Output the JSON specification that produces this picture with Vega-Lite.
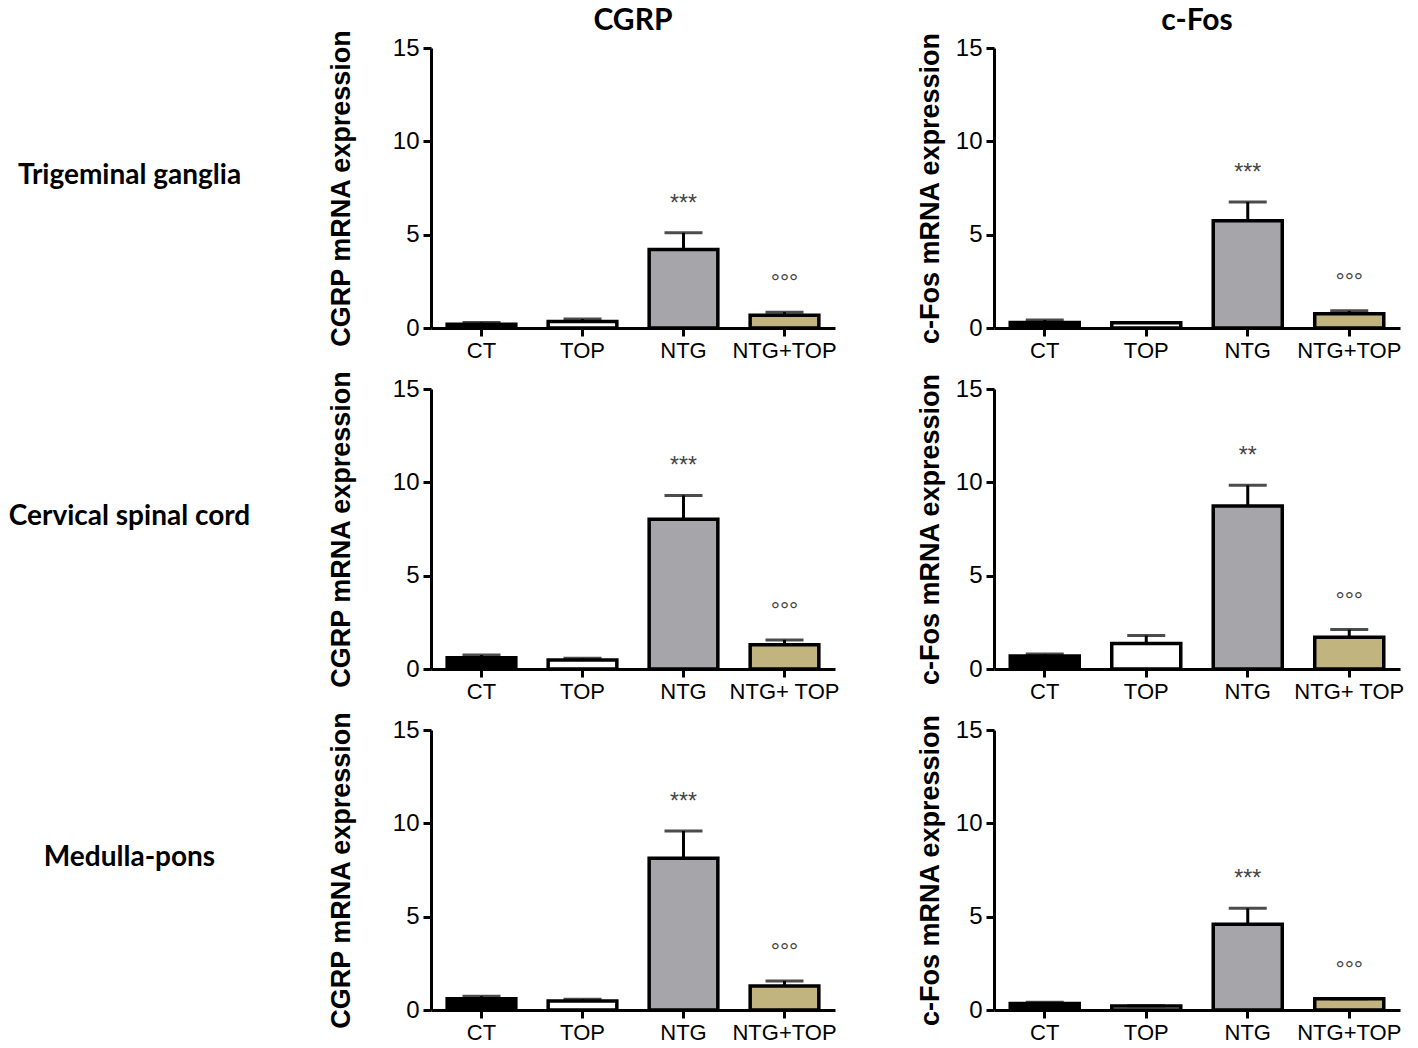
{
  "$schema": "https://vega.github.io/schema/vega-lite/v6.json",
  "padding": {"left": 8, "top": 6, "right": 5, "bottom": 5},
  "background": "white",
  "datasets": {
    "d": [
      {"region": "Trigeminal ganglia", "gene": "CGRP", "group": "CT", "label": "CT", "mean": 0.2, "upper": 0.3, "sig": ""},
      {"region": "Trigeminal ganglia", "gene": "CGRP", "group": "TOP", "label": "TOP", "mean": 0.35, "upper": 0.48, "sig": ""},
      {"region": "Trigeminal ganglia", "gene": "CGRP", "group": "NTG", "label": "NTG", "mean": 4.2, "upper": 5.1, "sig": "***"},
      {"region": "Trigeminal ganglia", "gene": "CGRP", "group": "NTG+TOP", "label": "NTG+TOP", "mean": 0.68, "upper": 0.85, "sig": "°°°"},
      {"region": "Trigeminal ganglia", "gene": "c-Fos", "group": "CT", "label": "CT", "mean": 0.3, "upper": 0.43, "sig": ""},
      {"region": "Trigeminal ganglia", "gene": "c-Fos", "group": "TOP", "label": "TOP", "mean": 0.28, "upper": 0.3, "sig": ""},
      {"region": "Trigeminal ganglia", "gene": "c-Fos", "group": "NTG", "label": "NTG", "mean": 5.74, "upper": 6.75, "sig": "***"},
      {"region": "Trigeminal ganglia", "gene": "c-Fos", "group": "NTG+TOP", "label": "NTG+TOP", "mean": 0.77, "upper": 0.92, "sig": "°°°"},
      {"region": "Cervical spinal cord", "gene": "CGRP", "group": "CT", "label": "CT", "mean": 0.6, "upper": 0.75, "sig": ""},
      {"region": "Cervical spinal cord", "gene": "CGRP", "group": "TOP", "label": "TOP", "mean": 0.48, "upper": 0.58, "sig": ""},
      {"region": "Cervical spinal cord", "gene": "CGRP", "group": "NTG", "label": "NTG", "mean": 8.02, "upper": 9.3, "sig": "***"},
      {"region": "Cervical spinal cord", "gene": "CGRP", "group": "NTG+TOP", "label": "NTG+ TOP", "mean": 1.3, "upper": 1.56, "sig": "°°°"},
      {"region": "Cervical spinal cord", "gene": "c-Fos", "group": "CT", "label": "CT", "mean": 0.7, "upper": 0.8, "sig": ""},
      {"region": "Cervical spinal cord", "gene": "c-Fos", "group": "TOP", "label": "TOP", "mean": 1.37, "upper": 1.79, "sig": ""},
      {"region": "Cervical spinal cord", "gene": "c-Fos", "group": "NTG", "label": "NTG", "mean": 8.73, "upper": 9.84, "sig": "**"},
      {"region": "Cervical spinal cord", "gene": "c-Fos", "group": "NTG+TOP", "label": "NTG+ TOP", "mean": 1.7, "upper": 2.11, "sig": "°°°"},
      {"region": "Medulla-pons", "gene": "CGRP", "group": "CT", "label": "CT", "mean": 0.6, "upper": 0.74, "sig": ""},
      {"region": "Medulla-pons", "gene": "CGRP", "group": "TOP", "label": "TOP", "mean": 0.48, "upper": 0.57, "sig": ""},
      {"region": "Medulla-pons", "gene": "CGRP", "group": "NTG", "label": "NTG", "mean": 8.13, "upper": 9.59, "sig": "***"},
      {"region": "Medulla-pons", "gene": "CGRP", "group": "NTG+TOP", "label": "NTG+TOP", "mean": 1.29, "upper": 1.56, "sig": "°°°"},
      {"region": "Medulla-pons", "gene": "c-Fos", "group": "CT", "label": "CT", "mean": 0.35, "upper": 0.42, "sig": ""},
      {"region": "Medulla-pons", "gene": "c-Fos", "group": "TOP", "label": "TOP", "mean": 0.22, "upper": 0.23, "sig": ""},
      {"region": "Medulla-pons", "gene": "c-Fos", "group": "NTG", "label": "NTG", "mean": 4.6, "upper": 5.45, "sig": "***"},
      {"region": "Medulla-pons", "gene": "c-Fos", "group": "NTG+TOP", "label": "NTG+TOP", "mean": 0.6, "upper": 0.6, "sig": "°°°"}
    ]
  },
  "config": {
    "view": {"stroke": null},
    "font": "Liberation Sans",
    "axis": {
      "domainColor": "black", "domainWidth": 3, "tickColor": "black", "tickWidth": 3, "tickSize": 8,
      "labelColor": "black", "labelFont": "Liberation Sans", "titleFont": "Liberation Sans", "titleColor": "black", "grid": false
    },
    "axisY": {"labelFontSize": 24, "titleFontSize": 27, "titleFontWeight": "bold", "labelPadding": 4},
    "axisX": {"labelFontSize": 22, "labelAngle": 0, "labelPadding": 4},
    "header": {"labelFont": "Lato", "labelFontWeight": "bold", "labelColor": "black"}
  },
  "hconcat": [
    {
      "data": {"name": "d"},
      "transform": [{"filter": "datum.gene == 'CGRP' && datum.group == 'CT'"}],
      "facet": {
        "row": {"field": "region", "type": "nominal", "sort": ["Trigeminal ganglia", "Cervical spinal cord", "Medulla-pons"], "header": {"title": null, "labels": false}}
      },
      "spacing": {"row": 61},
      "resolve": {"scale": {"x": "independent", "y": "independent"}},
      "spec": {
        "width": 241, "height": 280,
        "mark": {"type": "text", "font": "Lato", "fontWeight": "bold", "fontSize": 28, "color": "black", "align": "center", "baseline": "middle", "dy": -12},
        "encoding": {
          "x": {"field": "region", "type": "nominal", "axis": null},
          "y": {"field": "region", "type": "nominal", "axis": null},
          "text": {"field": "region"}
        }
      }
    },
    {
      "data": {"name": "d"},
      "transform": [{"filter": "datum.gene == 'CGRP'"}],
      "facet": {
        "row": {"field": "region", "type": "nominal", "sort": ["Trigeminal ganglia", "Cervical spinal cord", "Medulla-pons"], "header": {"title": null, "labels": false}},
        "column": {"field": "gene", "type": "nominal", "header": {"title": null, "labelFontSize": 30, "labelPadding": 12}}
      },
      "spacing": {"row": 28},
      "resolve": {"scale": {"x": "independent"}, "axis": {"x": "independent"}},
      "spec": {
        "width": 404, "height": 280,
        "encoding": {
          "x": {"field": "label", "type": "nominal", "sort": ["CT", "TOP", "NTG", "NTG+TOP", "NTG+ TOP"], "scale": {"paddingInner": 0.32, "paddingOuter": 0.16}, "axis": {"title": null}}
        },
        "layer": [
          {
            "mark": {"type": "bar", "stroke": "black", "strokeWidth": 3.5},
            "encoding": {
              "y": {"field": "mean", "type": "quantitative", "scale": {"domain": [0, 15], "nice": false}, "axis": {"values": [0, 5, 10, 15], "title": "CGRP mRNA expression", "titlePadding": 37}},
              "fill": {"field": "group", "type": "nominal", "scale": {"domain": ["CT", "TOP", "NTG", "NTG+TOP"], "range": ["#000000", "#ffffff", "#a6a6aa", "#c2b47e"]}, "legend": null}
            }
          },
          {
            "mark": {"type": "rule", "color": "black", "strokeWidth": 3},
            "encoding": {"y": {"field": "mean", "type": "quantitative"}, "y2": {"field": "upper"}}
          },
          {
            "mark": {"type": "tick", "color": "black", "thickness": 3, "size": 38},
            "encoding": {"y": {"field": "upper", "type": "quantitative"}}
          },
          {
            "transform": [{"filter": "datum.sig != ''"}],
            "mark": {"type": "text", "dy": -22, "fontSize": 23, "color": "#444444", "baseline": "alphabetic"},
            "encoding": {"y": {"field": "upper", "type": "quantitative"}, "text": {"field": "sig"}}
          }
        ]
      }
    },
    {
      "data": {"name": "d"},
      "transform": [{"filter": "datum.gene == 'c-Fos'"}],
      "facet": {
        "row": {"field": "region", "type": "nominal", "sort": ["Trigeminal ganglia", "Cervical spinal cord", "Medulla-pons"], "header": {"title": null, "labels": false}},
        "column": {"field": "gene", "type": "nominal", "header": {"title": null, "labelFontSize": 30, "labelPadding": 12}}
      },
      "spacing": {"row": 28},
      "resolve": {"scale": {"x": "independent"}, "axis": {"x": "independent"}},
      "spec": {
        "width": 406, "height": 280,
        "encoding": {
          "x": {"field": "label", "type": "nominal", "sort": ["CT", "TOP", "NTG", "NTG+TOP", "NTG+ TOP"], "scale": {"paddingInner": 0.32, "paddingOuter": 0.16}, "axis": {"title": null}}
        },
        "layer": [
          {
            "mark": {"type": "bar", "stroke": "black", "strokeWidth": 3.5},
            "encoding": {
              "y": {"field": "mean", "type": "quantitative", "scale": {"domain": [0, 15], "nice": false}, "axis": {"values": [0, 5, 10, 15], "title": "c-Fos mRNA expression", "titlePadding": 11}},
              "fill": {"field": "group", "type": "nominal", "scale": {"domain": ["CT", "TOP", "NTG", "NTG+TOP"], "range": ["#000000", "#ffffff", "#a6a6aa", "#c2b47e"]}, "legend": null}
            }
          },
          {
            "mark": {"type": "rule", "color": "black", "strokeWidth": 3},
            "encoding": {"y": {"field": "mean", "type": "quantitative"}, "y2": {"field": "upper"}}
          },
          {
            "mark": {"type": "tick", "color": "black", "thickness": 3, "size": 38},
            "encoding": {"y": {"field": "upper", "type": "quantitative"}}
          },
          {
            "transform": [{"filter": "datum.sig != ''"}],
            "mark": {"type": "text", "dy": -22, "fontSize": 23, "color": "#444444", "baseline": "alphabetic"},
            "encoding": {"y": {"field": "upper", "type": "quantitative"}, "text": {"field": "sig"}}
          }
        ]
      }
    }
  ],
  "spacing": 76
}
